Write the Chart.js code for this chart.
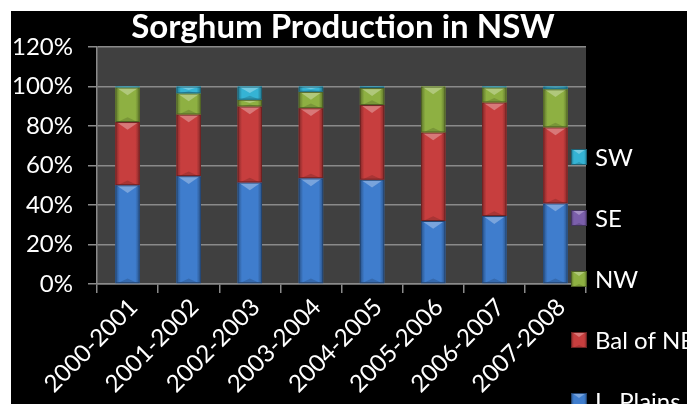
<!DOCTYPE html>
<html>
<head>
<meta charset="utf-8">
<script src="https://cdn.jsdelivr.net/npm/chart.js@4/dist/chart.umd.min.js"></script>
<style>
  body { margin: 0; background: #ffffff; }
  #wrap { position: absolute; left: 11px; top: 11px; width: 676px; height: 393px; background: #000000; overflow: hidden; }
</style>
</head>
<body>
<div id="wrap"><canvas id="graph_sorghum" width="676" height="393"></canvas></div>
<script>
/*------------------------------*/
/*     Sorghum data             */
/*------------------------------*/
var seasons = ['2000-2001', '2001-2002', '2002-2003', '2003-2004', '2004-2005', '2005-2006', '2006-2007', '2007-2008']
var lPlains = [50.0, 54.6, 51.4, 53.5, 52.8, 31.9, 34.4, 40.8]
var balOfNE = [32.0, 31.2, 38.5, 35.5, 37.8, 44.8, 57.5, 38.5]
var nw      = [17.5, 10.7, 3.4, 8.3, 8.6, 23.3, 7.6, 19.3]
var se      = [0, 0, 0, 0, 0, 0, 0, 0]
var sw      = [0.5, 3.5, 6.7, 2.7, 0.8, 0, 0.5, 1.4]
var yTicks  = [0, 20, 40, 60, 80, 100, 120]

var fontName = 'Lato'

function shade(hex, f) {
    var n = parseInt(hex.slice(1), 16)
    var r = (n >> 16) & 255, g = (n >> 8) & 255, b = n & 255
    if (f < 0) { r = r * (1 + f); g = g * (1 + f); b = b * (1 + f) }
    else { r = r + (255 - r) * f; g = g + (255 - g) * f; b = b + (255 - b) * f }
    return 'rgb(' + Math.round(r) + ',' + Math.round(g) + ',' + Math.round(b) + ')'
}

// bevel look of the old office charts
function bevel(ctx, left, top, w, h, color) {
    if (h <= 0.5) return
    ctx.save()
    ctx.beginPath()
    ctx.rect(left, top, w, h)
    ctx.clip()
    var g = ctx.createLinearGradient(left, 0, left + w, 0)
    g.addColorStop(0, shade(color, -0.35))
    g.addColorStop(0.18, color)
    g.addColorStop(0.82, color)
    g.addColorStop(1, shade(color, -0.35))
    ctx.fillStyle = g
    ctx.fillRect(left, top, w, h)
    var d = Math.min(w * 0.32, h / 2)
    ctx.fillStyle = shade(color, 0.3)
    ctx.beginPath()
    ctx.moveTo(left + 1, top)
    ctx.lineTo(left + w - 1, top)
    ctx.lineTo(left + w / 2, top + d)
    ctx.closePath()
    ctx.fill()
    ctx.fillStyle = shade(color, -0.15)
    ctx.beginPath()
    ctx.moveTo(left + 2, top + h)
    ctx.lineTo(left + w - 2, top + h)
    ctx.lineTo(left + w / 2, top + h - d * 0.6)
    ctx.closePath()
    ctx.fill()
    ctx.strokeStyle = shade(color, -0.45)
    ctx.lineWidth = 1
    ctx.strokeRect(left + 0.5, top + 0.5, w - 1, h - 1)
    ctx.restore()
}

var decorPlugin = {
    id: 'decor',
    beforeDraw: function (chart) {
        var a = chart.chartArea, ctx = chart.ctx
        ctx.save()
        ctx.fillStyle = '#404040'
        ctx.fillRect(a.left, a.top, a.right - a.left, a.bottom - a.top)
        ctx.restore()
    },
    afterDatasetsDraw: function (chart) {
        var ctx = chart.ctx
        chart.data.datasets.forEach(function (ds, i) {
            chart.getDatasetMeta(i).data.forEach(function (bar) {
                var p = bar.getProps(['x', 'y', 'base', 'width'], true)
                bevel(ctx, p.x - p.width / 2, Math.min(p.y, p.base), p.width, Math.abs(p.base - p.y), ds.backgroundColor)
            })
        })
    },
    afterDraw: function (chart) {
        var ctx = chart.ctx
        ctx.save()
        // title
        ctx.fillStyle = '#ffffff'
        ctx.font = 'bold 33px ' + fontName
        ctx.textAlign = 'center'
        ctx.textBaseline = 'middle'
        ctx.fillText('Sorghum Production in NSW', 332, 16)
        // legend, top entry is the last series
        var n = chart.data.datasets.length
        ctx.font = '24px ' + fontName
        ctx.textAlign = 'left'
        for (var k = 0; k < n; k++) {
            var ds = chart.data.datasets[n - 1 - k]
            var cy = 146 + k * 61
            bevel(ctx, 560, cy - 8, 16, 16, ds.backgroundColor)
            ctx.fillStyle = '#ffffff'
            ctx.fillText(ds.label, 584, cy + 1)
        }
        ctx.restore()
    }
}

var ctx_sorghum = document.getElementById('graph_sorghum').getContext('2d')

var data_sorghum = {
    labels: seasons,
    datasets: [
        { label: 'L. Plains', data: lPlains, backgroundColor: '#3f7dcd' },
        { label: 'Bal of NE', data: balOfNE, backgroundColor: '#c73e3e' },
        { label: 'NW', data: nw, backgroundColor: '#8eb042' },
        { label: 'SE', data: se, backgroundColor: '#7b5fab' },
        { label: 'SW', data: sw, backgroundColor: '#35b3d4' }
    ]
}

var gridColor = '#8a8a8a'

var config_sorghum = {
    type: 'bar',
    data: data_sorghum,
    options: {
        responsive: false,
        animation: false,
        layout: { padding: { top: 36, right: 101, left: 0, bottom: 0 } },
        datasets: { bar: { categoryPercentage: 1, barPercentage: 0.4, borderWidth: 0 } },
        plugins: {
            legend: { display: false },
            title: { display: false },
            tooltip: { enabled: false }
        },
        scales: {
            x: {
                stacked: true,
                afterFit: function (s) { s.height = 120 },
                grid: { drawOnChartArea: false, drawTicks: true, tickLength: 9, color: gridColor, tickColor: gridColor, lineWidth: 1.5 },
                border: { color: gridColor, width: 1.5 },
                ticks: { color: '#ffffff', font: { family: fontName, size: 24 }, minRotation: 45, maxRotation: 45, padding: 0, labelOffset: 6 }
            },
            y: {
                stacked: true,
                min: 0,
                max: 120,
                afterFit: function (s) { s.width = 86 },
                afterBuildTicks: function (s) { s.ticks = yTicks.map(function (v) { return { value: v } }) },
                grid: { color: gridColor, tickColor: gridColor, tickLength: 9, lineWidth: 1.5 },
                border: { color: gridColor, width: 1.5 },
                ticks: {
                    color: '#ffffff',
                    font: { family: fontName, size: 24 },
                    padding: 15,
                    callback: function (v) { return v + '%' }
                }
            }
        }
    },
    plugins: [decorPlugin]
}
var graph_sorghum = new Chart(ctx_sorghum, config_sorghum)
</script>
</body>
</html>
